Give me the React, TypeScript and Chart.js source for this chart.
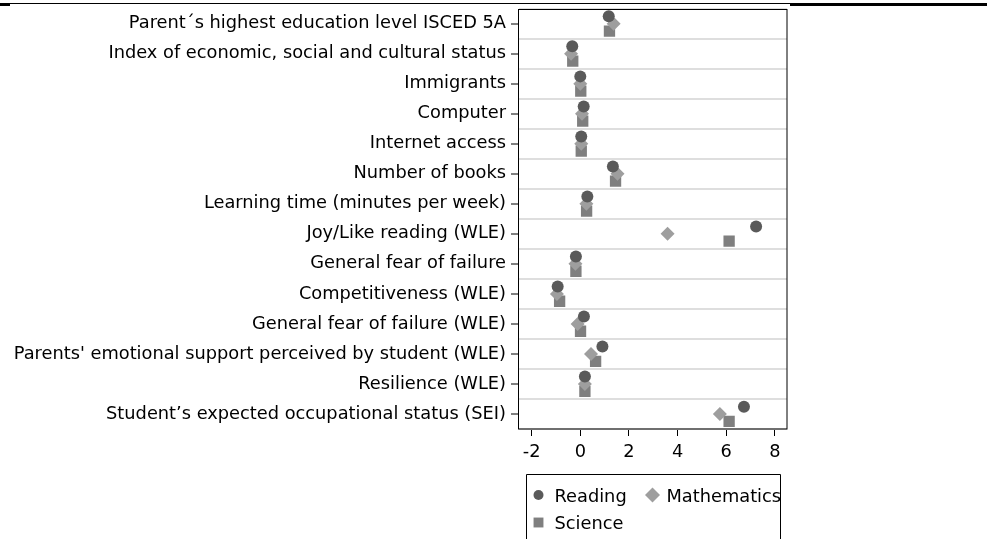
import React, { useEffect, useRef } from 'react';
import { Chart, registerables } from 'chart.js';

Chart.register(...registerables);

const categories = [
  'Parent´s highest education level ISCED 5A',
  'Index of economic, social and cultural status',
  'Immigrants',
  'Computer',
  'Internet access',
  'Number of books',
  'Learning time (minutes per week)',
  'Joy/Like reading (WLE)',
  'General fear of failure',
  'Competitiveness (WLE)',
  'General fear of failure (WLE)',
  "Parents' emotional support perceived by student (WLE)",
  'Resilience (WLE)',
  'Student’s expected occupational status (SEI)',
];

const readingValues = [1.17, -0.33, 0.0, 0.14, 0.04, 1.34, 0.29, 7.23, -0.18, -0.93, 0.15, 0.91, 0.19, 6.73];
const mathValues = [1.37, -0.38, 0.0, 0.07, 0.04, 1.53, 0.25, 3.59, -0.2, -0.96, -0.11, 0.44, 0.19, 5.74];
const scienceValues = [1.2, -0.31, 0.02, 0.1, 0.04, 1.45, 0.26, 6.12, -0.18, -0.85, 0.01, 0.63, 0.19, 6.12];

const seriesNames = ['Reading', 'Mathematics', 'Science'];
const xTickValues = [-2, 0, 2, 4, 6, 8];

const FONT = { family: "'DejaVu Sans', sans-serif", size: 17.8 };
const COLORS = ['#5a5a5a', '#9e9e9e', '#7f7f7f'];
const OFFSETS = [-0.245, 0, 0.245];

const framePlugin = {
  id: 'frame',
  afterDatasetsDraw(chart: any) {
    const { ctx, chartArea: a } = chart;
    ctx.save();
    ctx.strokeStyle = '#000';
    ctx.lineWidth = 1;
    ctx.strokeRect(Math.round(a.left) - 0.5, Math.round(a.top) + 0.5, Math.round(a.right - a.left) + 0.5, Math.round(a.bottom - a.top) - 0.5);
    ctx.restore();
  },
};

function drawMarker(ctx: CanvasRenderingContext2D, style: string, x: number, y: number, r: number) {
  ctx.beginPath();
  if (style === 'circle') {
    ctx.arc(x, y, r, 0, Math.PI * 2);
  } else if (style === 'rectRot') {
    ctx.moveTo(x, y - r);
    ctx.lineTo(x + r, y);
    ctx.lineTo(x, y + r);
    ctx.lineTo(x - r, y);
    ctx.closePath();
  } else {
    const s = r * Math.SQRT1_2;
    ctx.rect(x - s, y - s, 2 * s, 2 * s);
  }
  ctx.fill();
}

const legendBoxPlugin = {
  id: 'legendBox',
  afterDraw(chart: any) {
    const { ctx, chartArea: a } = chart;
    const ds = chart.data.datasets;
    ctx.save();
    const boxLeft = Math.round(a.left) + 7.5;
    const boxRight = Math.round(a.right) - 6.5;
    const boxTop = Math.round(a.bottom) + 45.5;
    ctx.strokeStyle = '#000';
    ctx.lineWidth = 1;
    ctx.beginPath();
    ctx.moveTo(boxLeft, chart.height + 5);
    ctx.lineTo(boxLeft, boxTop);
    ctx.lineTo(boxRight, boxTop);
    ctx.lineTo(boxRight, chart.height + 5);
    ctx.stroke();
    const positions = [
      { mx: boxLeft + 12, tx: boxLeft + 28, y: boxTop + 56.5 - 29.5 },
      { mx: boxLeft + 126, tx: boxLeft + 140, y: boxTop + 56.5 - 29.5 },
      { mx: boxLeft + 12, tx: boxLeft + 28, y: boxTop + 84 - 29.5 },
    ];
    const sizes: Record<string, number> = { circle: 5, rectRot: 7.5, rect: 7 };
    ctx.font = `${FONT.size}px ${FONT.family}`;
    ctx.textBaseline = 'alphabetic';
    ctx.textAlign = 'left';
    ds.forEach((d: any, i: number) => {
      const p = positions[i];
      ctx.fillStyle = d.backgroundColor;
      drawMarker(ctx, d.pointStyle, p.mx, p.y - 6.5, sizes[d.pointStyle]);
      ctx.fillStyle = '#000';
      ctx.fillText(d.label, p.tx, p.y);
    });
    ctx.restore();
  },
};

export default function App() {
  const canvasRef = useRef<HTMLCanvasElement | null>(null);

  useEffect(() => {
    if (!canvasRef.current) return;
    const series = [readingValues, mathValues, scienceValues];
    const styles = ['circle', 'rectRot', 'rect'];
    const radii = [6, 7, 8];
    const datasets = series.map((vals, si) => ({
      label: seriesNames[si],
      data: vals.map((v, i) => ({ x: v, y: i + 1 + OFFSETS[si] })),
      backgroundColor: COLORS[si],
      borderColor: COLORS[si],
      borderWidth: 0,
      pointStyle: styles[si],
      pointRadius: radii[si],
      showLine: false,
    }));

    const yTicks: number[] = [];
    for (let v = 0.5; v <= categories.length + 0.5; v += 0.5) yTicks.push(v);

    const chart = new Chart(canvasRef.current, {
      type: 'scatter',
      data: { datasets: datasets as any },
      plugins: [framePlugin, legendBoxPlugin],
      options: {
        animation: false,
        responsive: false,
        maintainAspectRatio: false,
        layout: { autoPadding: false, padding: { top: 2, right: 3, left: 0, bottom: 0 } },
        plugins: {
          legend: { display: false },
          tooltip: { enabled: false },
        },
        scales: {
          x: {
            type: 'linear',
            min: -2.52,
            max: 8.5,
            afterBuildTicks: (scale: any) => {
              scale.ticks = xTickValues.map((v) => ({ value: v }));
            },
            afterFit: (scale: any) => {
              scale.height = 110;
            },
            border: { display: false },
            grid: {
              drawOnChartArea: false,
              drawTicks: true,
              tickLength: 7,
              tickColor: '#000',
              tickWidth: 1,
            },
            ticks: {
              color: '#000',
              font: FONT,
              padding: 6,
              maxRotation: 0,
              autoSkip: false,
              callback: (v: any) => String(v),
            },
          },
          y: {
            type: 'linear',
            reverse: true,
            min: 0.5,
            max: categories.length + 0.5,
            afterBuildTicks: (scale: any) => {
              scale.ticks = yTicks.map((v) => ({ value: v }));
            },
            afterFit: (scale: any) => {
              scale.width = 519;
            },
            border: { display: false },
            grid: {
              drawOnChartArea: true,
              drawTicks: true,
              tickLength: 8,
              lineWidth: 2,
              color: (ctx: any) => (ctx.tick && Number.isInteger(ctx.tick.value) ? 'rgba(0,0,0,0)' : '#dedede'),
              tickColor: (ctx: any) => (ctx.tick && Number.isInteger(ctx.tick.value) ? '#000' : 'rgba(0,0,0,0)'),
              tickWidth: 1,
            },
            ticks: {
              color: '#000',
              font: FONT,
              padding: 5,
              autoSkip: false,
              callback: (v: any) => (Number.isInteger(v) ? categories[v - 1] : ''),
            },
          },
        },
      },
    });
    return () => chart.destroy();
  }, []);

  return (
    <div style={{ position: 'absolute', left: 0, top: 0, width: 987, height: 539, background: '#fff', overflow: 'hidden' }}>
      <canvas ref={canvasRef} width={790} height={546} style={{ position: 'absolute', left: 0, top: -7 }} />
      <div style={{ position: 'absolute', left: 0, top: 3, width: 790, height: 1, background: '#000' }} />
      <div style={{ position: 'absolute', left: 0, top: 3, width: 10, height: 3, background: '#000' }} />
      <div style={{ position: 'absolute', left: 790, top: 3, width: 197, height: 3, background: '#000' }} />
    </div>
  );
}
